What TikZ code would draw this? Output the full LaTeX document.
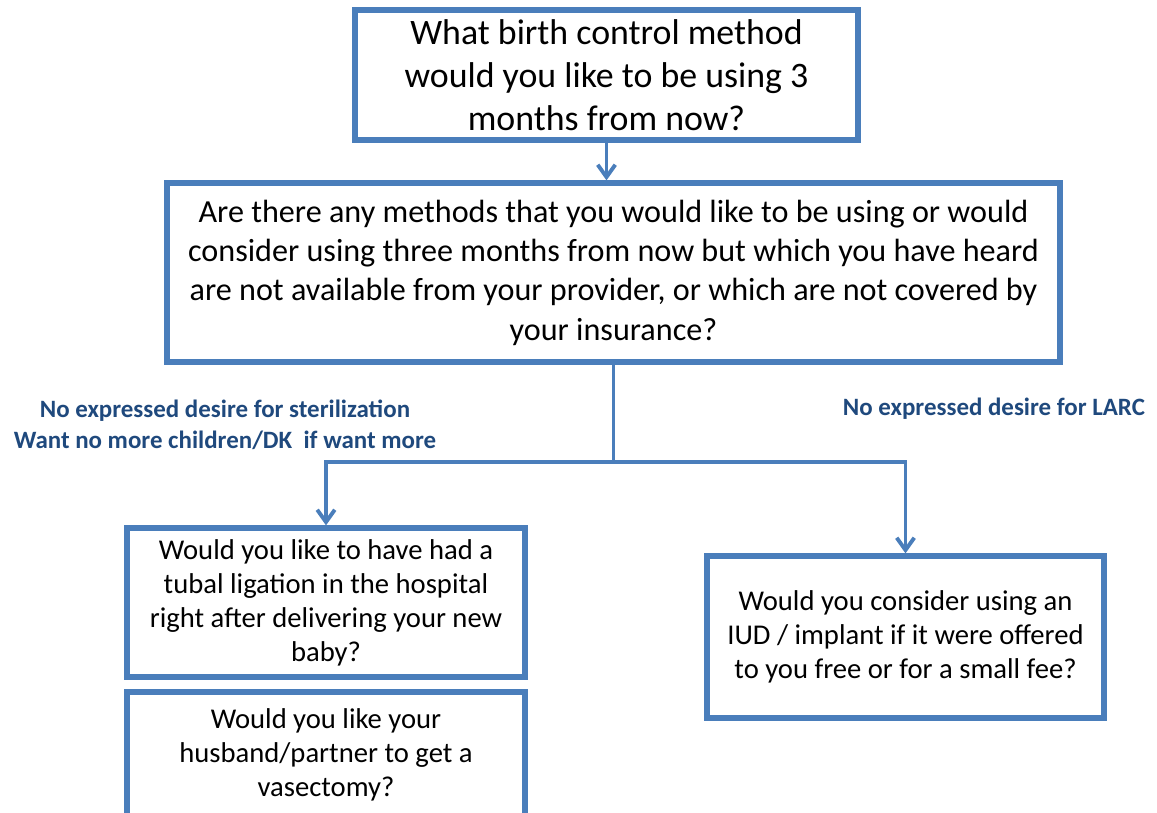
\documentclass[tikz,border=0pt]{standalone}
\usepackage{fontspec}
\setmainfont{Carlito}
\usetikzlibrary{arrows.meta}
\definecolor{boxblue}{RGB}{74,126,187}
\definecolor{labelblue}{RGB}{31,73,125}
\tikzset{
  qbox/.style={draw=boxblue, line width=3pt, fill=white, align=center, inner sep=0pt},
  link/.style={draw=boxblue, line width=2.2pt},
  arr/.style={link, -{Straight Barb[length=7pt,width=10pt]}},
  branch/.style={text=labelblue, font=\fontsize{14.2}{17.6}\selectfont\bfseries, align=center}
}
\begin{document}
\begin{tikzpicture}[x=0.02cm,y=-0.02cm]
  \useasboundingbox (0,0) rectangle (1157,812);
  \clip (0,0) rectangle (1157,812);

  % Question boxes
  \node[qbox, minimum width=503*0.02cm, minimum height=130*0.02cm,
        font=\fontsize{20.4}{24.4}\selectfont] (method) at (606.5,75)
    {What birth control method\\would you like to be using 3\\months from now?};
  \node[qbox, minimum width=893*0.02cm, minimum height=179*0.02cm,
        font=\fontsize{18.3}{22.4}\selectfont] (avail) at (613.5,272.5)
    {Are there any methods that you would like to be using or would\\consider using three months from now but which you have heard\\are not available from your provider, or which are not covered by\\your insurance?};
  \node[qbox, minimum width=398*0.02cm, minimum height=149*0.02cm,
        font=\fontsize{16.3}{19.3}\selectfont] (tubal) at (326,602.5)
    {Would you like to have had a\\tubal ligation in the hospital\\right after delivering your new\\baby?};
  \node[qbox, minimum width=398*0.02cm, minimum height=126*0.02cm,
        font=\fontsize{16.3}{19.3}\selectfont] (vasect) at (326,755)
    {Would you like your\\husband/partner to get a\\vasectomy?};
  \node[qbox, minimum width=397*0.02cm, minimum height=162*0.02cm,
        font=\fontsize{16.3}{19.3}\selectfont] (iud) at (905.5,637)
    {Would you consider using an\\IUD / implant if it were offered\\to you free or for a small fee?};

  % Branch labels
  \node[branch] (sterlabel) at (225,424.5)
    {No expressed desire for sterilization\\Want no more children/DK\ \ if want more};
  \node[branch] (larclabel) at (994,409) {No expressed desire for LARC};

  % Connectors
  \coordinate (fork) at (613.5,462);
  \draw[arr] (method.south) -- (method.south |- avail.north);
  \draw[link] (avail.south) -- (fork);
  \draw[arr] (fork) -| (tubal.north);
  \draw[arr] (fork) -| (iud.north);
\end{tikzpicture}
\end{document}
